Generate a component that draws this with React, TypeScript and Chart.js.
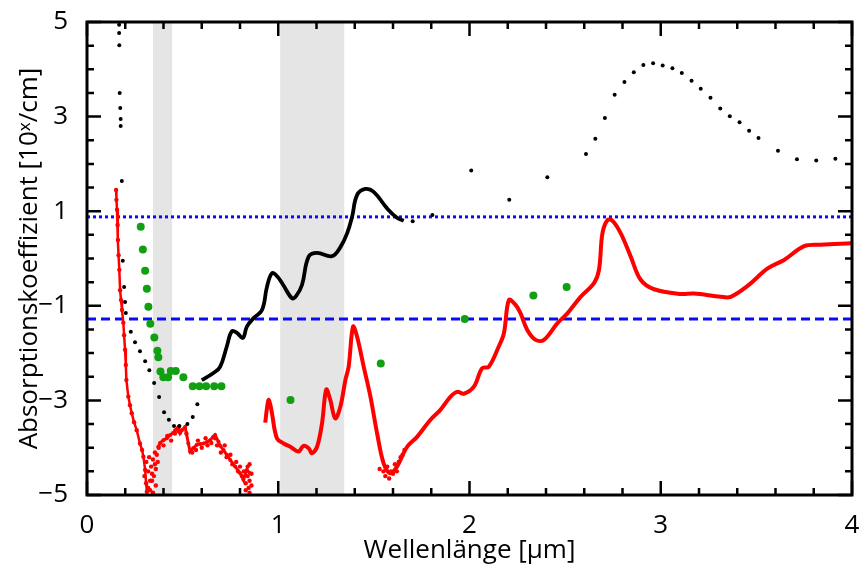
import React, { useEffect, useRef } from 'react';
import { Chart, registerables } from 'chart.js';

Chart.register(...registerables);

// ---------- axis definitions ----------
const xTickValues = [0, 1, 2, 3, 4];
const yTickValues = [-5, -3, -1, 1, 3, 5];
const xMinorStep = 0.2;
const yMinorStep = 0.5;

// grey bands (µm)
const greyBands: [number, number][] = [
  [0.345, 0.445],
  [1.01, 1.345],
];

// horizontal reference levels
const blueDottedLevel = 0.88;
const blueDashedLevel = -1.28;

// ---------- series ----------
const blackLine: [number, number][] = [
  [0.600, -2.57], [0.661, -2.42], [0.696, -2.29], [0.731, -1.86], [0.757, -1.54],
  [0.784, -1.57], [0.815, -1.68], [0.836, -1.44], [0.871, -1.26], [0.915, -1.09],
  [0.941, -0.60], [0.967, -0.31], [0.993, -0.37], [1.026, -0.56], [1.072, -0.84],
  [1.094, -0.79], [1.124, -0.56], [1.159, 0.04], [1.203, 0.12], [1.281, 0.05],
  [1.325, 0.24], [1.360, 0.53], [1.386, 0.88], [1.412, 1.34], [1.455, 1.47],
  [1.499, 1.41], [1.569, 1.06], [1.621, 0.86], [1.656, 0.80],
];

const blackDots: [number, number][] = [
  [0.168, 4.94], [0.168, 4.77], [0.169, 4.51], [0.171, 3.50], [0.174, 3.18],
  [0.176, 2.95], [0.176, 2.80], [0.182, 1.64], [0.187, -0.05], [0.194, -0.60],
  [0.199, -0.92], [0.203, -1.15], [0.229, -1.55], [0.251, -1.77], [0.277, -1.96],
  [0.304, -2.17], [0.326, -2.36], [0.351, -2.63], [0.377, -2.93], [0.403, -3.25],
  [0.428, -3.41], [0.455, -3.54], [0.483, -3.54], [0.525, -3.50], [0.553, -3.35],
  [0.577, -3.08], [1.703, 0.79], [1.806, 0.92], [2.009, 1.86], [2.208, 1.24],
  [2.407, 1.72], [2.609, 2.21], [2.658, 2.53], [2.708, 2.97], [2.759, 3.46],
  [2.810, 3.73], [2.859, 3.94], [2.909, 4.09], [2.960, 4.13], [3.010, 4.08],
  [3.061, 4.02], [3.110, 3.92], [3.161, 3.76], [3.209, 3.59], [3.260, 3.40],
  [3.311, 3.17], [3.361, 3.01], [3.412, 2.88], [3.462, 2.70], [3.511, 2.55],
  [3.613, 2.28], [3.712, 2.10], [3.813, 2.07], [3.913, 2.11],
];

const greenDots: [number, number][] = [
  [0.281, 0.67], [0.292, 0.19], [0.304, -0.26], [0.313, -0.64], [0.321, -1.02],
  [0.331, -1.38], [0.352, -1.67], [0.368, -1.95], [0.373, -2.09], [0.384, -2.39],
  [0.399, -2.51], [0.424, -2.51], [0.438, -2.38], [0.464, -2.38], [0.504, -2.51],
  [0.553, -2.70], [0.588, -2.70], [0.623, -2.70], [0.665, -2.70], [0.703, -2.70],
  [1.064, -2.99], [1.536, -2.22], [1.975, -1.28], [2.334, -0.78], [2.508, -0.60],
];

const redUV: [number, number][] = [
  [0.152, 1.45], [0.154, 1.24], [0.157, 1.03], [0.160, 0.71], [0.162, 0.39],
  [0.165, 0.07], [0.169, -0.24], [0.173, -0.67], [0.178, -0.88], [0.183, -1.09],
  [0.190, -1.36], [0.194, -1.62], [0.199, -1.93], [0.203, -2.25], [0.206, -2.57],
  [0.216, -2.92], [0.225, -3.10], [0.234, -3.27], [0.246, -3.46], [0.260, -3.63],
  [0.277, -3.91], [0.288, -4.05], [0.295, -4.19], [0.304, -4.47], [0.309, -4.75],
  [0.313, -4.93],
];

const redVis: [number, number][] = [
  [0.373, -3.98], [0.382, -3.90], [0.399, -3.84], [0.417, -3.80], [0.435, -3.73],
  [0.450, -3.69], [0.461, -3.63], [0.478, -3.56], [0.487, -3.69], [0.496, -3.63],
  [0.513, -3.56], [0.530, -3.91], [0.539, -4.08], [0.555, -4.01], [0.574, -3.94],
  [0.592, -3.92], [0.609, -3.91], [0.627, -3.88], [0.644, -3.84], [0.660, -3.77],
  [0.670, -3.73], [0.687, -3.87], [0.696, -3.96], [0.714, -4.05], [0.731, -4.15],
  [0.749, -4.26], [0.775, -4.40], [0.801, -4.54], [0.818, -4.68], [0.836, -4.47],
  [0.853, -4.54],
];

const redNoise: [number, number][] = [
  [0.300, -4.60], [0.310, -4.30], [0.320, -4.50], [0.325, -4.20], [0.330, -4.70],
  [0.335, -4.40], [0.340, -4.55], [0.345, -4.25], [0.350, -4.60], [0.355, -4.35],
  [0.360, -4.45], [0.365, -4.15], [0.370, -4.30], [0.375, -4.00], [0.330, -4.90],
  [0.345, -4.95], [0.360, -4.80], [0.320, -4.85], [0.340, -4.70], [0.355, -4.10],
  [0.400, -3.95], [0.420, -3.75], [0.440, -3.85], [0.460, -3.70], [0.480, -3.65],
  [0.520, -3.70], [0.550, -4.10], [0.570, -4.05], [0.580, -3.85], [0.600, -4.00],
  [0.620, -3.80], [0.630, -3.95], [0.650, -3.90], [0.670, -3.80], [0.680, -3.95],
  [0.700, -4.10], [0.720, -3.95], [0.730, -4.20], [0.750, -4.15], [0.760, -4.35],
  [0.780, -4.30], [0.790, -4.50], [0.800, -4.40], [0.810, -4.60], [0.820, -4.50],
  [0.830, -4.75], [0.840, -4.60], [0.850, -4.70], [0.860, -4.80], [0.840, -4.40],
  [0.850, -4.35], [0.860, -4.55], [0.850, -4.95], [0.830, -4.90], [0.845, -4.85],
  [1.530, -4.45], [1.550, -4.50], [1.560, -4.60], [1.570, -4.40], [1.580, -4.65],
  [1.590, -4.50], [1.600, -4.55], [1.610, -4.35], [1.620, -4.50], [1.630, -4.30],
  [1.640, -4.20], [1.650, -4.15], [1.660, -4.05],
];

const redIR: [number, number][] = [
  [0.932, -3.47], [0.940, -3.20], [0.949, -2.99], [0.958, -3.08], [0.967, -3.27],
  [0.993, -3.80], [1.028, -3.91], [1.063, -3.98], [1.106, -4.08], [1.132, -3.96],
  [1.159, -4.01], [1.176, -4.12], [1.203, -3.98], [1.229, -3.48], [1.251, -2.77],
  [1.272, -2.99], [1.298, -3.38], [1.325, -3.13], [1.351, -2.57], [1.368, -2.29],
  [1.391, -1.44], [1.412, -1.65], [1.447, -2.29], [1.482, -2.92], [1.517, -3.70],
  [1.551, -4.33], [1.586, -4.54], [1.621, -4.40], [1.674, -3.98], [1.726, -3.77],
  [1.796, -3.41], [1.848, -3.20], [1.901, -2.92], [1.936, -2.82], [1.970, -2.86],
  [2.023, -2.71], [2.066, -2.32], [2.101, -2.29], [2.153, -1.86], [2.180, -1.58],
  [2.206, -0.88], [2.241, -0.98], [2.267, -1.16], [2.302, -1.51], [2.346, -1.72],
  [2.389, -1.72], [2.459, -1.37], [2.512, -1.16], [2.581, -0.81], [2.651, -0.52],
  [2.677, -0.24], [2.695, 0.53], [2.721, 0.81], [2.747, 0.80], [2.791, 0.53],
  [2.843, 0.04], [2.895, -0.45], [2.965, -0.65], [3.105, -0.75], [3.174, -0.74],
  [3.314, -0.81], [3.366, -0.81], [3.454, -0.58], [3.559, -0.21], [3.645, -0.03],
  [3.750, 0.26], [3.838, 0.29], [3.995, 0.32],
];

const toXY = (arr: [number, number][]) => arr.map(([x, y]) => ({ x, y }));

const FONT = "'Open Sans', 'Noto Sans', 'DejaVu Sans', sans-serif";

const framePlugin = {
  id: 'framePlugin',
  beforeDatasetsDraw(chart: any) {
    const { ctx, chartArea: a, scales } = chart;
    const xs = scales.x;
    ctx.save();
    ctx.fillStyle = '#e5e5e5';
    for (const [b0, b1] of greyBands) {
      const p0 = xs.getPixelForValue(b0);
      const p1 = xs.getPixelForValue(b1);
      ctx.fillRect(p0, a.top, p1 - p0, a.bottom - a.top);
    }
    ctx.restore();
  },
  afterDatasetsDraw(chart: any) {
    const { ctx, chartArea: a, scales } = chart;
    const xs = scales.x;
    const ys = scales.y;
    ctx.save();
    ctx.strokeStyle = '#000';
    ctx.lineWidth = 2.5;
    const major = 14;
    const minor = 7;
    const isMajor = (v: number, arr: number[]) => arr.some((t) => Math.abs(t - v) < 1e-6);
    const xmin = xs.min, xmax = xs.max;
    for (let i = 0; xmin + i * xMinorStep <= xmax + 1e-9; i++) {
      const v = xmin + i * xMinorStep;
      const p = xs.getPixelForValue(v);
      const L = isMajor(v, xTickValues) ? major : minor;
      ctx.beginPath();
      ctx.moveTo(p, a.bottom);
      ctx.lineTo(p, a.bottom - L);
      ctx.moveTo(p, a.top);
      ctx.lineTo(p, a.top + L);
      ctx.stroke();
    }
    const ymin = ys.min, ymax = ys.max;
    for (let i = 0; ymin + i * yMinorStep <= ymax + 1e-9; i++) {
      const v = ymin + i * yMinorStep;
      const p = ys.getPixelForValue(v);
      const L = isMajor(v, yTickValues) ? major : minor;
      ctx.beginPath();
      ctx.moveTo(a.left, p);
      ctx.lineTo(a.left + L, p);
      ctx.moveTo(a.right, p);
      ctx.lineTo(a.right - L, p);
      ctx.stroke();
    }
    ctx.lineWidth = 3;
    ctx.strokeRect(a.left, a.top, a.right - a.left, a.bottom - a.top);
    ctx.restore();
  },
};

export default function App() {
  const ref = useRef<HTMLCanvasElement | null>(null);

  useEffect(() => {
    if (!ref.current) return;
    const chart = new Chart(ref.current, {
      type: 'scatter',
      data: {
        datasets: [
          {
            label: 'black line',
            data: toXY(blackLine),
            showLine: true,
            borderColor: '#000',
            borderWidth: 3.8,
            pointRadius: 0,
            tension: 0.4,
          },
          {
            label: 'black dots',
            data: toXY(blackDots),
            showLine: false,
            backgroundColor: '#000',
            borderWidth: 0,
            pointRadius: 2,
          },
          {
            label: 'green dots',
            data: toXY(greenDots),
            showLine: false,
            backgroundColor: '#11a011',
            borderWidth: 0,
            pointRadius: 4,
          },
          {
            label: 'red IR',
            data: toXY(redIR),
            showLine: true,
            borderColor: '#ff0000',
            borderWidth: 4,
            pointRadius: 0,
            tension: 0.35,
          },
          {
            label: 'red noise',
            data: toXY(redNoise),
            showLine: false,
            backgroundColor: '#ff0000',
            borderWidth: 0,
            pointRadius: 2.2,
          },
          {
            label: 'red vis',
            data: toXY(redVis),
            showLine: true,
            borderColor: '#ff0000',
            borderWidth: 3,
            backgroundColor: '#ff0000',
            pointBorderWidth: 0,
            pointRadius: 2,
            tension: 0,
          },
          {
            label: 'red UV',
            data: toXY(redUV),
            showLine: true,
            borderColor: '#ff0000',
            borderWidth: 2.5,
            backgroundColor: '#ff0000',
            pointBorderWidth: 0,
            pointRadius: 2.2,
            tension: 0,
          },
          {
            label: 'dashed',
            data: [{ x: 0, y: blueDashedLevel }, { x: 4, y: blueDashedLevel }],
            showLine: true,
            borderColor: '#0a0aff',
            borderWidth: 3,
            borderDash: [9, 5],
            pointRadius: 0,
          },
          {
            label: 'dotted',
            data: [{ x: 0, y: blueDottedLevel }, { x: 4, y: blueDottedLevel }],
            showLine: true,
            borderColor: '#0a0aff',
            borderWidth: 3,
            borderDash: [3, 3],
            pointRadius: 0,
          },
        ],
      },
      options: {
        responsive: false,
        animation: false,
        events: [],
        layout: { padding: { top: 22, right: 7, left: 0, bottom: 0 } },
        plugins: {
          legend: { display: false },
          tooltip: { enabled: false },
          title: { display: false },
        },
        scales: {
          x: {
            type: 'linear',
            min: 0,
            max: 4,
            grid: { display: false },
            border: { display: false },
            afterBuildTicks: (s: any) => {
              s.ticks = xTickValues.map((v) => ({ value: v }));
            },
            afterFit: (s: any) => {
              s.height = 77;
              s.paddingLeft = 0;
              s.paddingRight = 0;
            },
            ticks: {
              color: '#000',
              padding: 7,
              maxRotation: 0,
              font: { family: FONT, size: 26 },
              callback: (v: any) => String(v),
            },
            title: {
              display: true,
              text: 'Wellenlänge [µm]',
              color: '#000',
              font: { family: FONT, size: 26 },
              padding: { top: 0, bottom: 6 },
            },
          },
          y: {
            type: 'linear',
            min: -5,
            max: 5,
            grid: { display: false },
            border: { display: false },
            afterBuildTicks: (s: any) => {
              s.ticks = yTickValues.map((v) => ({ value: v }));
            },
            afterFit: (s: any) => {
              s.width = 87;
              s.paddingTop = 0;
              s.paddingBottom = 0;
            },
            ticks: {
              color: '#000',
              padding: 11,
              font: { family: FONT, size: 26 },
              callback: (v: any) => (v < 0 ? '\u2212' + Math.abs(v) : String(v)),
            },
            title: {
              display: true,
              text: 'Absorptionskoeffizient [10ˣ/cm]',
              color: '#000',
              font: { family: FONT, size: 26 },
              padding: { top: 14, bottom: 0 },
            },
          },
        },
      } as any,
      plugins: [framePlugin],
    });
    return () => chart.destroy();
  }, []);

  return (
    <div style={{ position: 'absolute', left: 0, top: 0, width: 859, height: 572, background: '#fff' }}>
      <canvas ref={ref} width={859} height={572} style={{ display: 'block' }} />
    </div>
  );
}
